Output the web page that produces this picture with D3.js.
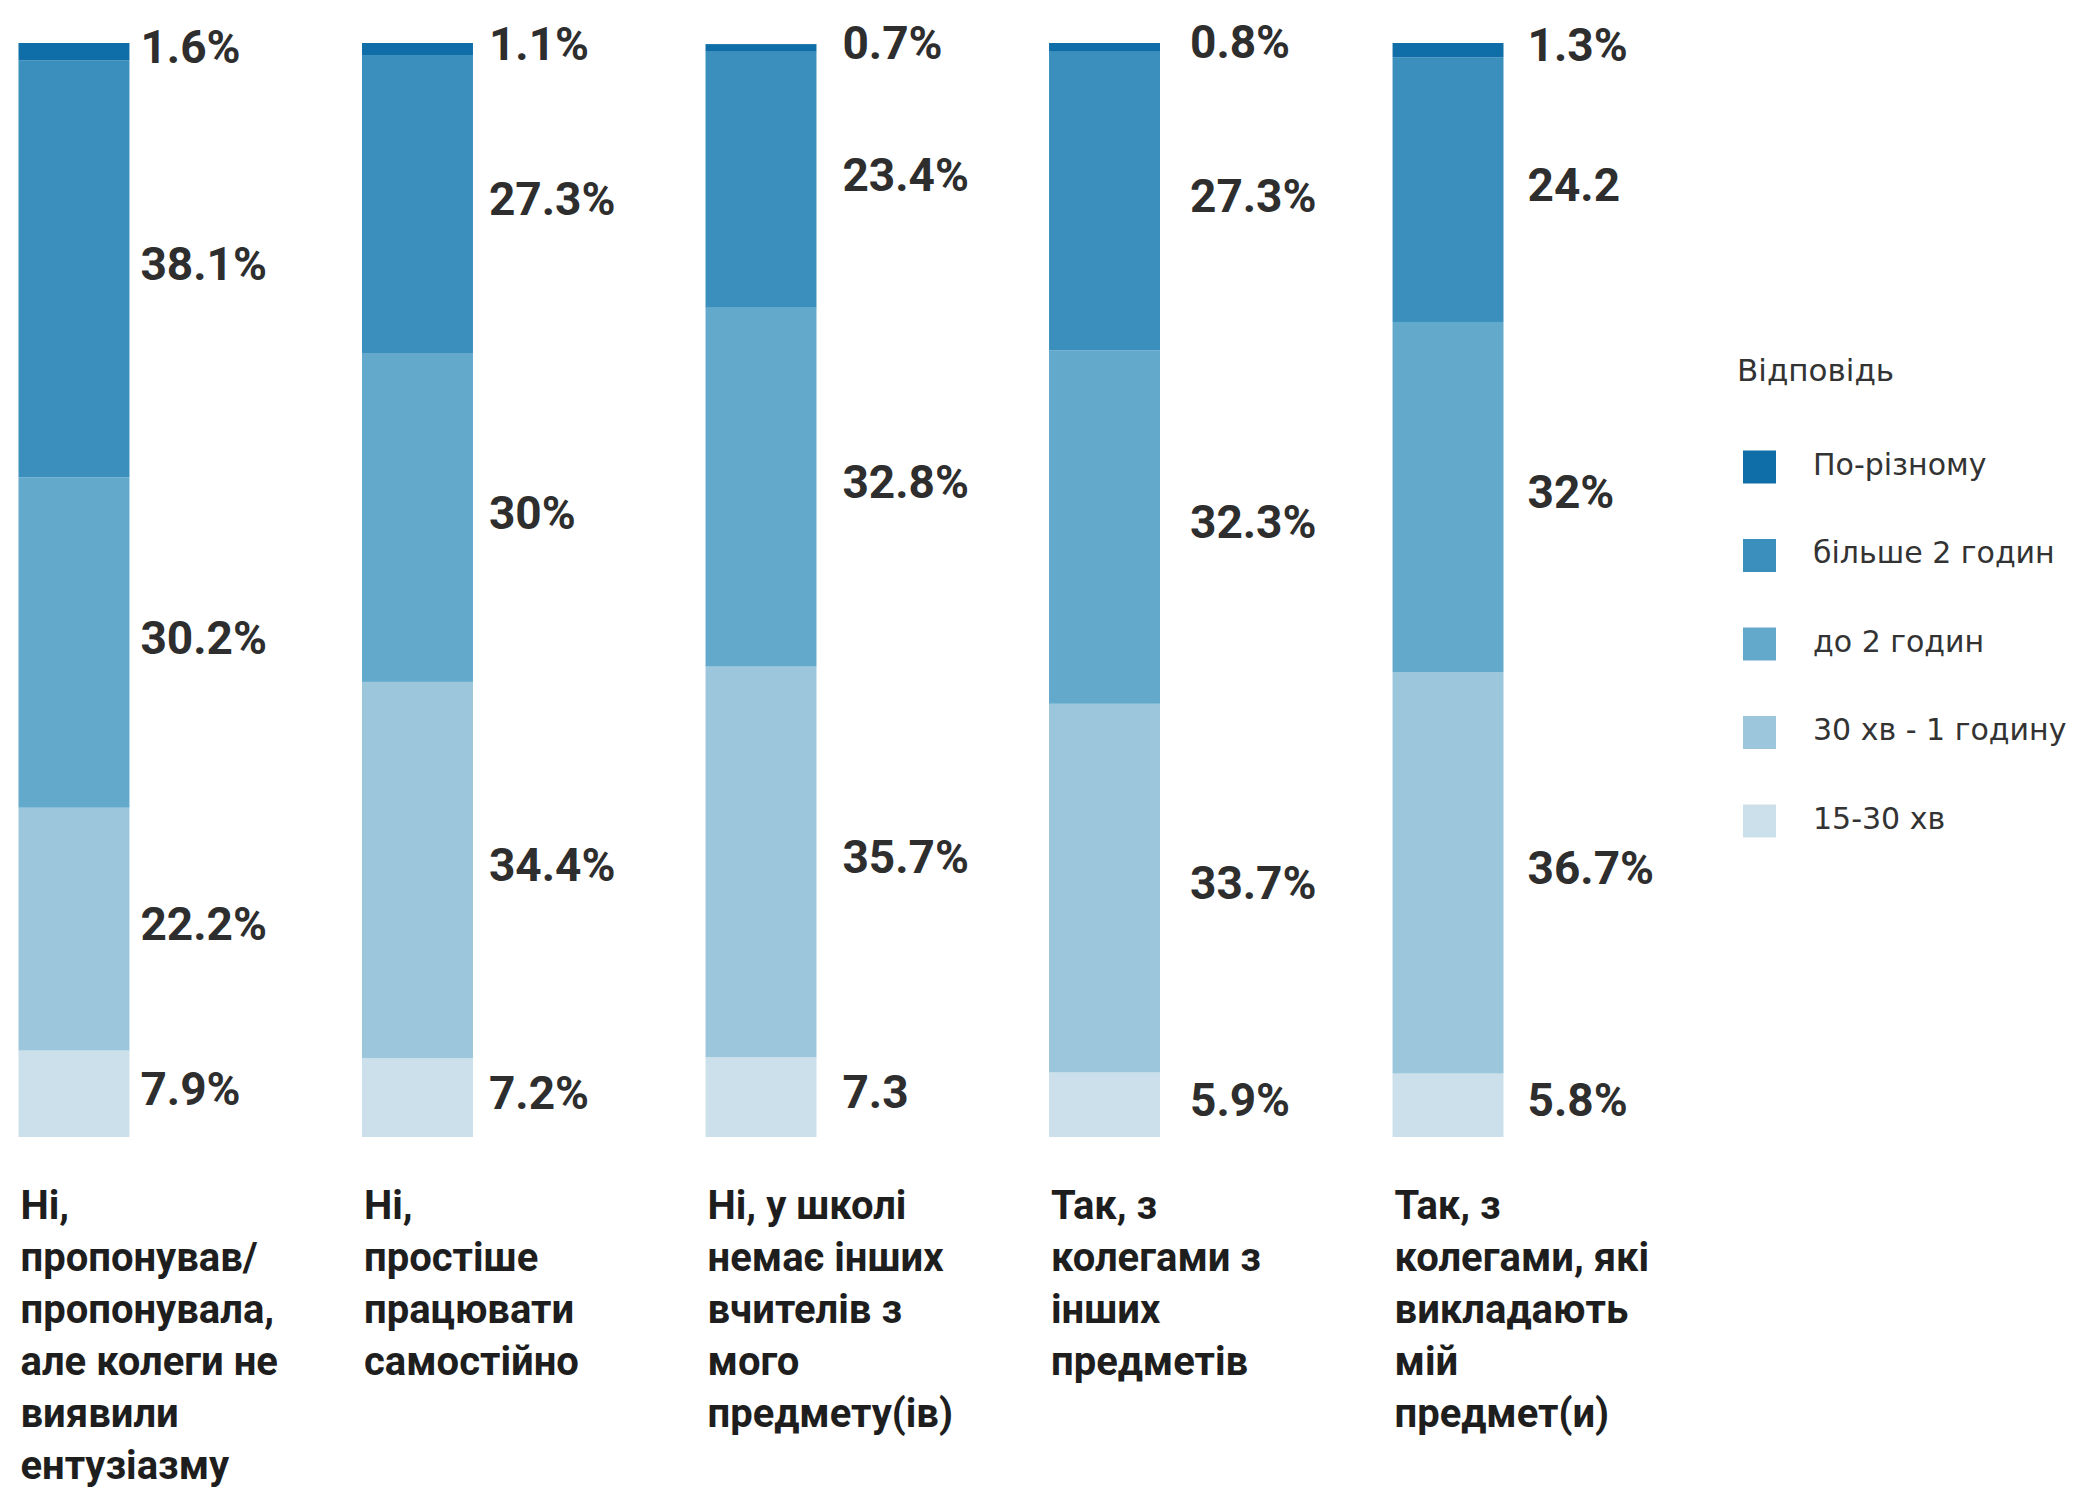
<!DOCTYPE html>
<html>
<head>
<meta charset="utf-8">
<script src="https://cdn.jsdelivr.net/npm/d3@7"></script>
<style>
  body { margin: 0; background: #fff; }
  svg { display: block; }
</style>
</head>
<body>
<svg id="chart" width="2079" height="1494"></svg>
<script>
// categories (multi-line labels under each bar)
const categories = ["c1", "c2", "c3", "c4", "c5"];
const categoryLines = [
  ["Ні,", "пропонував/", "пропонувала,", "але колеги не", "виявили", "ентузіазму"],
  ["Ні,", "простіше", "працювати", "самостійно"],
  ["Ні, у школі", "немає інших", "вчителів з", "мого", "предмету(ів)"],
  ["Так, з", "колегами з", "інших", "предметів"],
  ["Так, з", "колегами, які", "викладають", "мій", "предмет(и)"]
];

// series, bottom to top
const seriesNames = ["15-30 хв", "30 хв - 1 годину", "до 2 годин", "більше 2 годин", "По-різному"];
const v15to30   = [7.9, 7.2, 7.3, 5.9, 5.8];
const v30to60   = [22.2, 34.4, 35.7, 33.7, 36.7];
const vUpTo2h   = [30.2, 30, 32.8, 32.3, 32];
const vOver2h   = [38.1, 27.3, 23.4, 27.3, 24.2];
const vVaries   = [1.6, 1.1, 0.7, 0.8, 1.3];
// labels printed without the % sign in the original
const bareLabels = [["c3", "15-30 хв"], ["c5", "більше 2 годин"]];

const colors = ["#cbe0ea", "#9bc6db", "#62a9cb", "#3a8fbd", "#0f6ea8"];
const legendTitle = "Відповідь";

// ---- layout ----
const labelOffset = [11, 16, 26, 30, 24]; // gap between bar and its value labels
const svg = d3.select("#chart");
const textColor = "#2e2e2e";

const rows = categories.map((c, i) => {
  const r = {cat: c};
  r[seriesNames[0]] = v15to30[i];
  r[seriesNames[1]] = v30to60[i];
  r[seriesNames[2]] = vUpTo2h[i];
  r[seriesNames[3]] = vOver2h[i];
  r[seriesNames[4]] = vVaries[i];
  return r;
});
const stacked = d3.stack().keys(seriesNames)(rows);

const x = d3.scaleBand().domain(categories).range([18.5, 1503.5]).paddingInner(0.677).paddingOuter(0).align(0);
const y = d3.scaleLinear().domain([0, 100]).range([1137, 43]);
const color = d3.scaleOrdinal().domain(seriesNames).range(colors);

const layers = svg.append("g").selectAll("g.layer").data(stacked).join("g")
  .attr("class", "layer").attr("fill", d => color(d.key));

layers.selectAll("rect").data(d => d).join("rect")
  .attr("x", d => x(d.data.cat))
  .attr("width", x.bandwidth())
  .attr("y", d => y(d[1]))
  .attr("height", d => y(d[0]) - y(d[1]));

// value labels
const isBare = (cat, key) => bareLabels.some(b => b[0] === cat && b[1] === key);
const valueLabels = svg.append("g")
  .style("font-family", "Roboto, 'Noto Sans', sans-serif")
  .style("font-weight", 700).style("font-size", "46px").attr("fill", textColor);
stacked.forEach(layer => {
  layer.forEach((d, i) => {
    const v = d[1] - d[0];
    valueLabels.append("text")
      .attr("x", x(d.data.cat) + x.bandwidth() + labelOffset[i])
      .attr("y", (y(d[0]) + y(d[1])) / 2 + 11)
      .text((Math.round(v * 10) / 10) + (isBare(d.data.cat, layer.key) ? "" : "%"));
  });
});

// category labels
const catG = svg.append("g")
  .style("font-family", "Roboto, 'Noto Sans', sans-serif")
  .style("font-weight", 700).style("font-size", "40px").attr("fill", "#1e1e1e");
categories.forEach((c, i) => {
  const t = catG.append("text").attr("x", x(c) + 2).attr("y", 1219);
  categoryLines[i].forEach((line, j) => {
    t.append("tspan").attr("x", x(c) + 2).attr("dy", j === 0 ? 0 : 52).text(line);
  });
});

// legend
const legend = svg.append("g").attr("transform", "translate(1737,0)")
  .style("font-family", "'DejaVu Sans', sans-serif").style("font-size", "30px").attr("fill", "#333");
legend.append("text").attr("x", 0).attr("y", 381).style("font-size", "31px").text(legendTitle);
const legendItems = seriesNames.slice().reverse();
const li = legend.selectAll("g.item").data(legendItems).join("g")
  .attr("class", "item").attr("transform", (d, i) => `translate(0,${467 + i * 88.5})`);
li.append("rect").attr("x", 6).attr("y", -16.5).attr("width", 33).attr("height", 33).attr("fill", d => color(d));
li.append("text").attr("x", 76).attr("y", -3).attr("dy", "0.35em").text(d => d);
</script>
</body>
</html>
